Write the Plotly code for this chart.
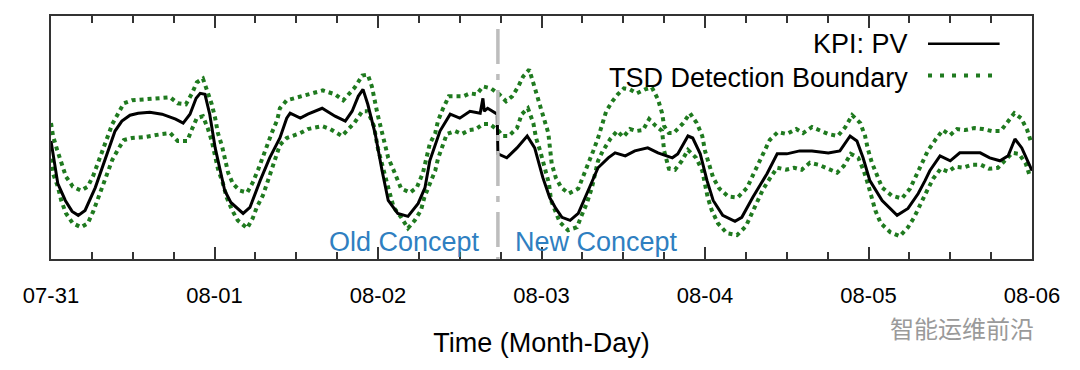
import pandas as pd
import plotly.graph_objects as go

# ---- data (hours since 07-31 00:00, PV in arbitrary units) ----
kpi_hours = [0.0, 1.0, 2.1, 3.1, 4.0, 5.0, 6.5, 7.9, 9.4, 10.4, 11.6, 12.8, 14.5, 16.3, 17.5, 18.3,
             19.4, 20.4, 21.3, 21.9, 22.6, 23.3, 24.1, 24.8, 25.5, 26.4, 27.3, 28.2, 29.2, 30.7,
             32.1, 33.6, 34.6, 35.1, 36.6, 37.7, 39.8, 41.7, 43.2, 44.2, 45.1, 45.8, 46.5, 47.6,
             48.6, 49.5, 50.9, 52.4, 53.9, 54.9, 55.6, 57.1, 58.6, 60.0, 61.5, 63.0, 63.4, 63.6,
             64.1, 65.5, 65.6, 66.9, 68.4, 69.9, 71.0, 72.2, 73.2, 74.1, 75.0, 76.2, 77.4, 78.8,
             80.3, 81.8, 82.8, 84.3, 85.7, 87.6, 89.1, 91.2, 92.0, 93.5, 94.2, 95.3, 96.3, 97.2,
             98.6, 100.4, 101.4, 103.0, 105.1, 106.6, 108.0, 109.9, 111.7, 114.1, 115.8, 117.3,
             118.3, 119.2, 120.2, 122.0, 124.2, 125.8, 127.3, 128.3, 129.0, 130.5, 132.0, 133.4,
             136.4, 137.8, 139.3, 140.5, 141.5, 142.5, 143.4, 144.0]
kpi_values = [119, 76, 59, 48, 44, 49, 72, 99, 129, 139, 145, 147, 148, 146, 143, 141,
              137, 146, 162, 167, 166, 146, 112, 89, 69, 57, 51, 46, 52, 79,
              102, 122, 142, 147, 142, 146, 152, 144, 139, 149, 164, 171, 156, 126,
              89, 59, 46, 43, 56, 72, 99, 129, 146, 142, 149, 147, 162, 149,
              152, 146, 106, 102, 112, 124, 112, 82, 62, 51, 42, 39, 46, 69,
              92, 102, 107, 104, 109, 112, 107, 102, 106, 124, 122, 106, 79, 59,
              44, 38, 42, 62, 86, 106, 106, 109, 109, 107, 109, 124,
              119, 102, 79, 59, 44, 51, 66, 79, 89, 104, 99, 107,
              107, 102, 99, 104, 121, 112, 99, 89]

upper_hours = [0.0, 0.3, 0.9, 1.5, 2.2, 3.2, 4.4, 5.4, 6.2, 6.9, 7.6, 8.2, 9.0, 9.8, 10.7, 11.9,
               13.8, 16.3, 17.5, 18.6, 19.8, 20.7, 21.4, 22.3, 22.9, 23.6, 24.1, 24.5, 25.1, 25.5,
               26.0, 26.7, 27.7, 28.8, 29.6, 30.4, 31.1, 31.7, 32.4, 33.2, 33.6, 34.6, 36.6, 39.9,
               41.7, 42.9, 44.6, 45.7, 46.5, 47.1, 47.9, 48.4, 49.0, 49.5, 50.2, 51.4, 52.7, 53.7,
               54.6, 55.6, 56.4, 56.8, 57.5, 58.4, 60.5, 61.5, 62.5, 63.4, 64.6, 65.8, 66.8, 67.7,
               68.6, 69.3, 70.2, 70.8, 71.3, 71.9, 72.4, 73.0, 73.5, 74.1, 74.9, 76.0, 77.4, 78.2,
               78.8, 79.6, 80.3, 80.9, 81.5, 82.4, 83.2, 84.1, 85.0, 86.0, 87.2, 88.2, 89.1, 89.7,
               90.0, 90.7, 91.4, 92.8, 93.8, 94.8, 95.6, 96.0, 96.6, 97.2, 98.1, 99.4, 100.8, 102.2,
               103.0, 103.8, 104.7, 105.5, 106.7, 108.0, 109.4, 110.4, 111.7, 112.9, 114.1, 115.5,
               116.6, 117.6, 118.8, 119.5, 119.9, 120.5, 121.2, 122.0, 123.4, 124.9, 126.1, 127.0,
               127.9, 128.7, 129.8, 130.9, 132.0, 133.0, 134.2, 135.5, 136.8, 138.1, 139.4, 140.3,
               141.4, 142.4, 143.3, 143.9]
upper_values = [137, 124, 110, 96, 83, 73, 69, 73, 84, 97, 110, 123, 136, 146, 157, 160,
                161, 163, 163, 157, 156, 167, 178, 182, 170, 156, 142, 127, 114, 101,
                87, 76, 69, 67, 77, 90, 103, 116, 127, 140, 152, 160, 164, 170,
                166, 160, 173, 185, 186, 174, 147, 132, 116, 102, 91, 71, 67, 72,
                87, 116, 127, 139, 151, 164, 164, 167, 166, 174, 172, 166, 159, 164,
                174, 184, 191, 179, 166, 152, 141, 127, 96, 82, 72, 66, 71, 84,
                96, 109, 122, 134, 149, 159, 166, 172, 171, 167, 171, 173, 161, 147,
                134, 127, 127, 137, 147, 137, 124, 109, 97, 82, 71, 63, 62, 72,
                84, 96, 109, 120, 128, 126, 131, 127, 133, 129, 126, 124,
                133, 145, 137, 124, 111, 97, 84, 72, 64, 61, 71, 84,
                97, 109, 120, 130, 125, 131, 130, 132, 131, 129, 129, 137,
                147, 142, 130, 117]

lower_hours = [0.0, 0.3, 1.0, 1.5, 2.2, 3.2, 4.4, 5.4, 6.2, 6.9, 7.6, 8.4, 9.0, 9.8, 10.7, 11.9,
               13.8, 16.3, 17.5, 18.6, 20.0, 20.7, 21.4, 22.3, 23.0, 23.6, 24.1, 24.5, 25.2, 25.8,
               26.6, 27.4, 28.8, 29.6, 30.2, 31.1, 31.7, 32.4, 33.0, 33.6, 34.6, 36.6, 37.7, 39.8,
               41.0, 42.7, 44.5, 45.7, 46.5, 47.4, 48.0, 48.7, 49.5, 50.3, 51.4, 52.4, 53.4, 54.3,
               54.8, 55.5, 56.4, 56.8, 57.4, 58.1, 59.3, 60.3, 61.4, 62.4, 63.4, 64.4, 65.6, 66.3,
               67.2, 68.4, 69.1, 70.0, 70.8, 71.2, 71.8, 72.5, 73.1, 73.4, 74.7, 75.9, 77.2, 77.9,
               78.7, 79.4, 79.9, 80.3, 81.0, 82.1, 83.1, 84.0, 85.0, 85.9, 86.9, 87.8, 88.8, 89.7,
               90.0, 90.7, 91.6, 92.6, 93.5, 94.7, 95.6, 96.0, 96.4, 97.0, 97.9, 99.2, 100.7, 102.0,
               102.9, 103.6, 104.5, 105.5, 106.6, 107.9, 109.1, 110.2, 111.4, 112.7, 114.1, 115.4,
               116.4, 117.4, 118.5, 119.3, 119.9, 120.4, 121.0, 121.8, 123.2, 124.6, 125.8, 126.7,
               127.7, 128.6, 129.5, 130.6, 131.7, 132.7, 133.9, 135.2, 136.5, 137.7, 139.0, 140.0,
               141.1, 142.1, 143.1, 143.7]
lower_values = [101, 86, 73, 59, 46, 36, 32, 36, 48, 61, 73, 86, 100, 110, 120, 122,
                123, 126, 127, 119, 119, 131, 142, 144, 132, 119, 104, 91, 77, 62,
                49, 39, 31, 41, 52, 64, 76, 91, 104, 115, 122, 127, 131, 134,
                131, 124, 137, 149, 149, 134, 111, 91, 72, 52, 42, 31, 39, 49,
                62, 74, 89, 101, 114, 126, 129, 126, 130, 131, 136, 136, 130, 124,
                124, 132, 146, 152, 137, 122, 109, 91, 76, 59, 37, 29, 32, 44,
                57, 72, 86, 99, 109, 121, 129, 123, 131, 129, 130, 141, 134, 129,
                109, 91, 90, 99, 110, 102, 89, 76, 62, 49, 36, 26, 24, 33,
                46, 57, 70, 81, 92, 90, 92, 90, 97, 95, 91, 87,
                94, 106, 102, 89, 76, 62, 49, 36, 27, 23, 32, 42,
                57, 69, 81, 91, 88, 93, 92, 95, 95, 91, 92, 99,
                107, 106, 96, 83]

drift_hour = 65.6
base = pd.Timestamp("2017-07-31")


def to_time(hours):
    return base + pd.to_timedelta(hours, unit="h")


FONT = "Liberation Sans, Arial, sans-serif"
GREEN = "#1f7a1f"
AXIS = "#333333"

fig = go.Figure()
fig.add_trace(go.Scatter(x=to_time(upper_hours), y=upper_values, mode="lines",
                         line=dict(color=GREEN, width=4, dash="4px,4px"),
                         showlegend=False, hoverinfo="skip"))
fig.add_trace(go.Scatter(x=to_time(lower_hours), y=lower_values, mode="lines",
                         line=dict(color=GREEN, width=4, dash="4px,4px"),
                         showlegend=False, hoverinfo="skip"))
fig.add_trace(go.Scatter(x=to_time(kpi_hours), y=kpi_values, mode="lines",
                         line=dict(color="black", width=3),
                         showlegend=False))

# concept drift marker
fig.add_shape(type="line", xref="x", yref="paper",
              x0=to_time(drift_hour), x1=to_time(drift_hour), y0=0.947, y1=0,
              line=dict(color="#bdbdbd", width=3.5, dash="35px,10px,6px,10px"))

# legend drawn manually (text on the left, sample on the right)
fig.add_annotation(x=0.876, y=0.886, xref="paper", yref="paper", text="KPI: PV",
                   showarrow=False, xanchor="right", yanchor="middle",
                   font=dict(family=FONT, size=27, color="black"))
fig.add_annotation(x=0.876, y=0.743, xref="paper", yref="paper", text="TSD Detection Boundary",
                   showarrow=False, xanchor="right", yanchor="middle",
                   font=dict(family=FONT, size=27, color="black"))
fig.add_shape(type="line", xref="paper", yref="paper", x0=0.894, x1=0.967, y0=0.886, y1=0.886,
              line=dict(color="black", width=2.6))
fig.add_shape(type="line", xref="paper", yref="paper", x0=0.894, x1=0.967, y0=0.755, y1=0.755,
              line=dict(color=GREEN, width=4, dash="4px,8px"))

fig.add_annotation(x=0.439, y=0.069, xref="paper", yref="paper", text="Old Concept",
                   showarrow=False, xanchor="right", yanchor="middle",
                   font=dict(family=FONT, size=27, color="#2f7fc1"))
fig.add_annotation(x=0.471, y=0.069, xref="paper", yref="paper", text="New Concept",
                   showarrow=False, xanchor="left", yanchor="middle",
                   font=dict(family=FONT, size=27, color="#2f7fc1"))

fig.add_annotation(x=0.853, y=-0.28, xref="paper", yref="paper", text="智能运维前沿",
                   showarrow=False, xanchor="left", yanchor="middle",
                   font=dict(family="Noto Sans CJK SC", size=24, color="#9a9a9a"))

# page body has an 8px margin: size the figure so the plot area lands where the reference has it
fig.update_layout(
    width=1072, height=362,
    margin=dict(l=43, r=48, t=6, b=111),
    plot_bgcolor="white", paper_bgcolor="white",
    font=dict(family=FONT, color="black"),
)
fig.update_xaxes(
    type="date", range=[base, base + pd.Timedelta(days=6)],
    tickformat="%m-%d", dtick=86400000, tick0=base,
    ticks="inside", ticklen=12, tickwidth=1.5, tickcolor=AXIS,
    minor=dict(dtick=6 * 3600000, ticks="inside", ticklen=7, tickwidth=1.5, tickcolor=AXIS),
    showline=True, linecolor=AXIS, linewidth=1.5, mirror="allticks",
    showgrid=False, zeroline=False,
    tickfont=dict(family=FONT, size=22, color="black"),
    ticklabelstandoff=16,
    title=dict(text="Time (Month-Day)", font=dict(family=FONT, size=27, color="black"), standoff=26),
)
fig.update_yaxes(
    range=[0, 245], showticklabels=False, ticks="",
    showline=True, linecolor=AXIS, linewidth=1.5, mirror=True,
    showgrid=False, zeroline=False,
)

fig.write_html("out.html")
